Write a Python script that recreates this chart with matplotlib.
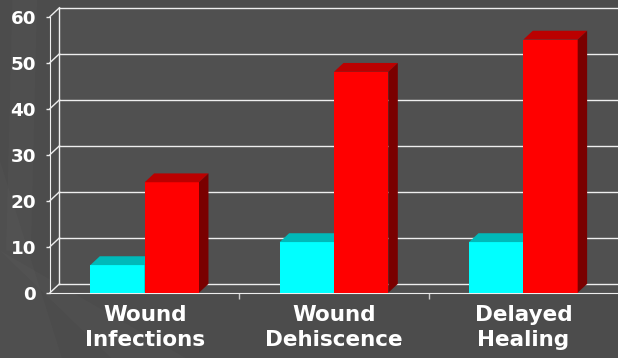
# ---------------------------------------------------------------
#   Wundkomplikationen - 3D Balkendiagramm (Kontrolle vs. Gruppe)
# ---------------------------------------------------------------
import numpy as np
import matplotlib.pyplot as plt
from matplotlib.patches import Polygon

# --------- Daten --------------
categories = ['Wound\nInfections', 'Wound\nDehiscence', 'Delayed\nHealing']
values_cyan = [6, 11, 11]
values_red = [24, 48, 55]
y_ticks = [0, 10, 20, 30, 40, 50, 60]

# --------- Stil --------------
BG = '#4c4c4c'
WALL = '#505050'
GRID = '#eeeeee'
BAR_W = 0.287
DX = 0.05        # Tiefe in x (Kategorie-Einheiten)
DY = 1.92        # Tiefe in y (Werte-Einheiten)
cyan = ('#00ffff', '#00b9b9', '#008080')
red = ('#ff0000', '#bb0000', '#7a0000')

plt.rcParams['font.family'] = ['DejaVu Sans']

fig = plt.figure(figsize=(6.18, 3.58), dpi=100, facecolor=BG)

# leichte Streifen im Hintergrund
for pts in ([(0, 0), (0.10, 0), (0.0, 0.55)],
            [(0.18, 0), (0.30, 0), (0.0, 0.30)],
            [(0.02, 1.0), (0.06, 1.0), (0.05, 0.3), (0.01, 0.3)]):
    fig.patches.append(Polygon(pts, closed=True, transform=fig.transFigure,
                               facecolor='white', alpha=0.02, lw=0, zorder=-5))

ax = fig.add_axes([50 / 618, 65.3 / 358, 1 - 50 / 618, 1 - 65.3 / 358])
ax.set_zorder(1)
ax.set_facecolor('none')
ax.set_xlim(-0.5, 2.5)
ax.set_ylim(0, 63.6)

# Rueckwand + Boden
ax.fill([-0.5 + DX, 2.5, 2.5, -0.5 + DX], [DY, DY, 60 + DY, 60 + DY],
        color=WALL, lw=0, zorder=0)
ax.fill([-0.5, 2.5, 2.5, -0.5 + DX], [0, 0, DY, DY], color=WALL, lw=0, zorder=0)

# Gitterlinien auf der Rueckwand, Verbinder zur Achse
for v in y_ticks:
    ax.plot([-0.5 + DX, 2.5], [v + DY, v + DY], color=GRID, lw=1.0, zorder=1,
            clip_on=False)
    ax.plot([-0.5, -0.5 + DX], [v, v + DY], color=GRID, lw=1.0, zorder=1,
            clip_on=False)
ax.plot([-0.5 + DX, -0.5 + DX], [DY, 60 + DY], color=GRID, lw=1.0, zorder=1,
        clip_on=False)

# --------- Balken --------------
x = np.arange(len(categories))


def bar3d(xc, h, cols):
    x0, x1 = xc - BAR_W / 2, xc + BAR_W / 2
    ax.bar(xc, h, width=BAR_W, color=cols[0], lw=0, zorder=3)
    ax.fill([x0, x1, x1 + DX, x0 + DX], [h, h, h + DY, h + DY],
            color=cols[1], lw=0, zorder=3)
    ax.fill([x1, x1 + DX, x1 + DX, x1], [0, DY, h + DY, h],
            color=cols[2], lw=0, zorder=3)


for i in range(len(categories)):
    bar3d(x[i] - BAR_W / 2, values_cyan[i], cyan)
    bar3d(x[i] + BAR_W / 2, values_red[i], red)

# --------- Achsen --------------
for s in ['top', 'right']:
    ax.spines[s].set_visible(False)
ax.spines['left'].set_color(GRID)
ax.spines['left'].set_bounds(0, 60)
ax.spines['bottom'].set_color(GRID)
ax.spines['left'].set_zorder(2)
ax.spines['bottom'].set_zorder(2)

ax.set_yticks(y_ticks)
ax.tick_params(axis='y', colors=GRID, length=3, width=1, pad=7,
               labelsize=13.2, labelcolor='white')
for t in ax.get_yticklabels():
    t.set_fontweight('bold')

ax.set_xticks(x)
ax.set_xticklabels(categories, fontsize=15.5, fontweight='bold', color='white',
                   linespacing=1.32)
ax.tick_params(axis='x', length=0, pad=9)
ax.set_xticks([0.5, 1.5], minor=True)
ax.tick_params(axis='x', which='minor', length=4, width=1, color='#cccccc')

fig.savefig('out.png', dpi=100, facecolor=BG)
